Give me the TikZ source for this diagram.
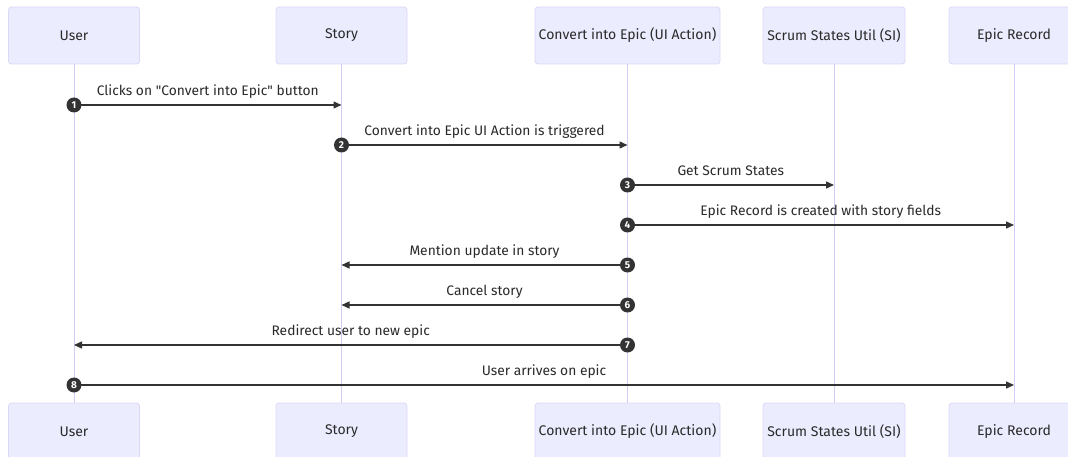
\documentclass[tikz,border=0pt]{standalone}
\usepackage{fontspec}
\setmainfont{Fira Sans}
\usetikzlibrary{arrows.meta}
\definecolor{actorfill}{HTML}{ECECFF}
\definecolor{actorline}{HTML}{DDD8F6}
\definecolor{lifeline}{HTML}{D2CEF3}
\definecolor{msgline}{HTML}{333333}
\definecolor{txt}{HTML}{2A2A2A}

\begin{document}
\begin{tikzpicture}[x=1pt,y=-1pt,
  actor/.style={draw=actorline, line width=0.8pt, fill=actorfill, rounded corners=3pt,
    minimum height=57pt, inner sep=0pt, text=txt, font=\fontsize{14}{16}\selectfont},
  life/.style={draw=lifeline, line width=1pt},
  msg/.style={draw=msgline, line width=1.3pt, -{Triangle[length=8pt,width=7pt]}},
  badge/.style={circle, fill=msgline, text=white, inner sep=0pt, minimum size=15pt,
    font=\bfseries\fontsize{10}{10}\selectfont},
  lbl/.style={text=txt, font=\fontsize{13.8}{16}\selectfont, anchor=base, yshift=9.5pt}]

  % canvas
  \fill[white] (0,0) rectangle (1068,457);
  \useasboundingbox (0,0) rectangle (1068,457);
  \clip (0,0) rectangle (1068,457);

  % participants (top row)
  \node[actor, minimum width=131pt] (uT) at (74,35.5)  {User};
  \node[actor, minimum width=131pt] (sT) at (341.5,35.5) {Story};
  \node[actor, minimum width=185pt] (cT) at (627.5,35.5) {Convert into Epic (UI Action)};
  \node[actor, minimum width=142pt] (rT) at (834,35.5) {Scrum States Util (SI)};
  \node[actor, minimum width=130pt] (eT) at (1014,35.5) {Epic Record};

  % participants (bottom row)
  \node[actor, minimum width=131pt] (uB) at (74,431.5)  {User};
  \node[actor, minimum width=131pt] (sB) at (341.5,431.5) {Story};
  \node[actor, minimum width=185pt] (cB) at (627.5,431.5) {Convert into Epic (UI Action)};
  \node[actor, minimum width=142pt] (rB) at (834,431.5) {Scrum States Util (SI)};
  \node[actor, minimum width=130pt] (eB) at (1014,431.5) {Epic Record};

  % lifelines
  \foreach \p in {u,s,c,r,e} \draw[life] (\p T.south) -- (\p B.north);

  % message anchor points on the lifelines
  \coordinate (u1) at (74,105);    \coordinate (s1) at (341.5,105);
  \coordinate (s2) at (341.5,145); \coordinate (c2) at (627.5,145);
  \coordinate (c3) at (627.5,185); \coordinate (r3) at (834,185);
  \coordinate (c4) at (627.5,225); \coordinate (e4) at (1014,225);
  \coordinate (c5) at (627.5,265); \coordinate (s5) at (341.5,265);
  \coordinate (c6) at (627.5,305); \coordinate (s6) at (341.5,305);
  \coordinate (c7) at (627.5,345); \coordinate (u7) at (74,345);
  \coordinate (u8) at (74,385);    \coordinate (e8) at (1014,385);

  % messages
  \draw[msg] (u1) -- (s1) node[lbl, midway] {Clicks on \textquotedbl Convert into Epic\textquotedbl{} button};
  \draw[msg] (s2) -- (c2) node[lbl, midway] {Convert into Epic UI Action is triggered};
  \draw[msg] (c3) -- (r3) node[lbl, midway] {Get Scrum States};
  \draw[msg] (c4) -- (e4) node[lbl, midway] {Epic Record is created with story fields};
  \draw[msg] (c5) -- (s5) node[lbl, midway] {Mention update in story};
  \draw[msg] (c6) -- (s6) node[lbl, midway] {Cancel story};
  \draw[msg] (c7) -- (u7) node[lbl, midway] {Redirect user to new epic};
  \draw[msg] (u8) -- (e8) node[lbl, midway] {User arrives on epic};

  % sequence numbers
  \node[badge] (n1) at (u1) {1};
  \node[badge] (n2) at (s2) {2};
  \node[badge] (n3) at (c3) {3};
  \node[badge] (n4) at (c4) {4};
  \node[badge] (n5) at (c5) {5};
  \node[badge] (n6) at (c6) {6};
  \node[badge] (n7) at (c7) {7};
  \node[badge] (n8) at (u8) {8};
\end{tikzpicture}
\end{document}
